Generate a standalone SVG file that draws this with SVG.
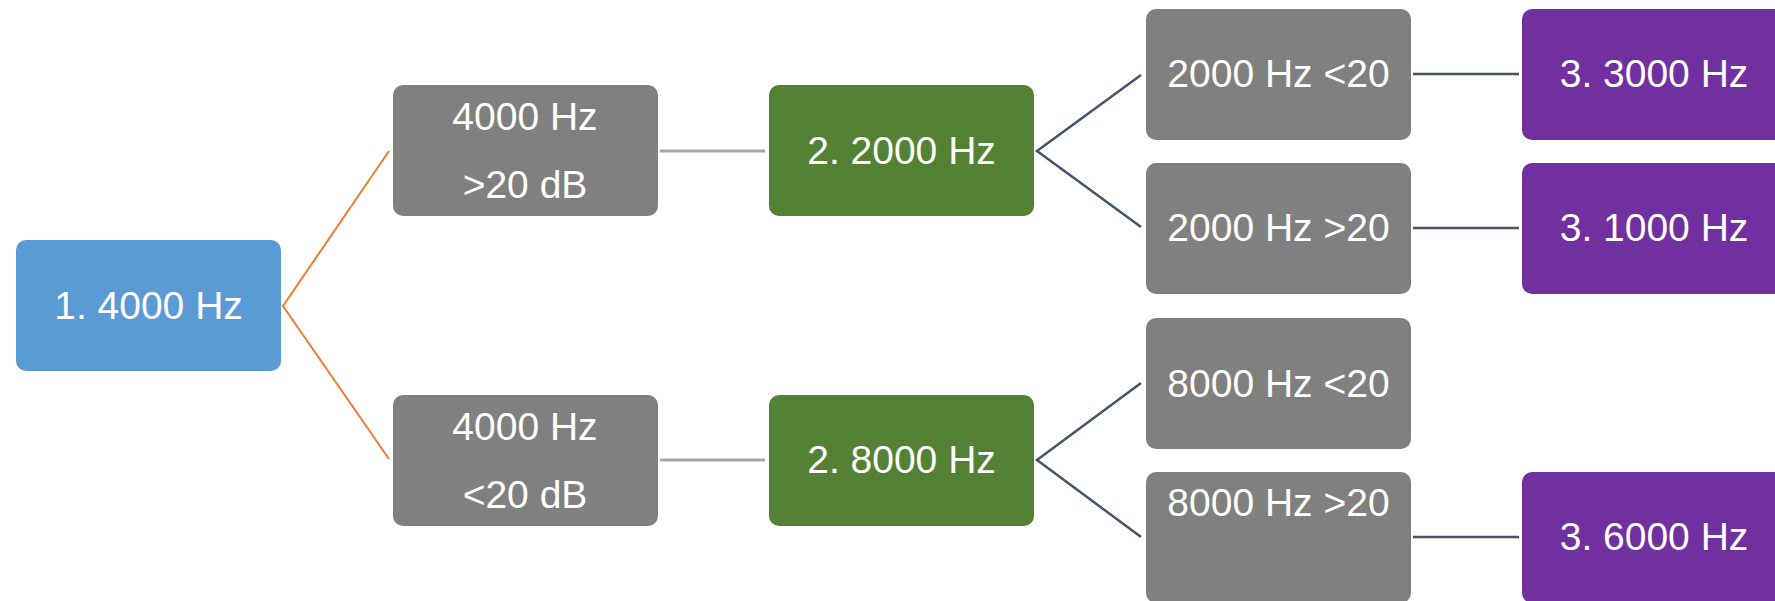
<svg xmlns="http://www.w3.org/2000/svg" width="1775" height="601" viewBox="0 0 1775 601">
<style>
.n{stroke:none}
.blue{fill:#5B9BD5}
.gray{fill:#808080}
.green{fill:#548235}
.purple{fill:#7030A0}
.t{font-family:"Liberation Sans",Arial,sans-serif;font-size:39px;fill:#FFFFFF;text-anchor:middle}
.or{stroke:#ED7D31;stroke-width:2;fill:none}
.lg{stroke:#A5A5A5;stroke-width:3;fill:none}
.dk{stroke:#44546A;stroke-width:2.5;fill:none}
</style>
<rect width="1775" height="601" fill="#FFFFFF"/>
<g id="connectors">
<polyline class="or" points="389,151 283,306 389,459"/>
<line class="lg" x1="660" y1="151" x2="765" y2="151"/>
<line class="lg" x1="660" y1="460" x2="765" y2="460"/>
<polyline class="dk" points="1141,75 1037,151 1141,227"/>
<polyline class="dk" points="1141,383 1037,460 1141,537"/>
<line class="dk" x1="1413" y1="74" x2="1519" y2="74"/>
<line class="dk" x1="1413" y1="228" x2="1519" y2="228"/>
<line class="dk" x1="1413" y1="537" x2="1519" y2="537"/>
</g>
<g id="n1"><rect class="n blue" x="16" y="240" width="265" height="131" rx="10"/><text class="t" x="148.5" y="319">1. 4000 Hz</text></g>
<g id="n2"><rect class="n gray" x="393" y="85" width="265" height="131" rx="10"/><text class="t" x="525" y="130">4000 Hz</text><text class="t" x="525" y="198">&gt;20 dB</text></g>
<g id="n3"><rect class="n gray" x="393" y="395" width="265" height="131" rx="10"/><text class="t" x="525" y="440">4000 Hz</text><text class="t" x="525" y="508">&lt;20 dB</text></g>
<g id="n4"><rect class="n green" x="769" y="85" width="265" height="131" rx="10"/><text class="t" x="901.5" y="164">2. 2000 Hz</text></g>
<g id="n5"><rect class="n green" x="769" y="395" width="265" height="131" rx="10"/><text class="t" x="901.5" y="473">2. 8000 Hz</text></g>
<g id="n6"><rect class="n gray" x="1146" y="9" width="265" height="131" rx="10"/><text class="t" x="1278.5" y="87">2000 Hz &lt;20</text></g>
<g id="n7"><rect class="n gray" x="1146" y="163" width="265" height="131" rx="10"/><text class="t" x="1278.5" y="241">2000 Hz &gt;20</text></g>
<g id="n8"><rect class="n gray" x="1146" y="318" width="265" height="131" rx="10"/><text class="t" x="1278.5" y="397">8000 Hz &lt;20</text></g>
<g id="n9"><rect class="n gray" x="1146" y="472" width="265" height="131" rx="10"/><text class="t" x="1278.5" y="516">8000 Hz &gt;20</text></g>
<g id="n10"><rect class="n purple" x="1522" y="9" width="265" height="131" rx="10"/><text class="t" x="1654" y="87">3. 3000 Hz</text></g>
<g id="n11"><rect class="n purple" x="1522" y="163" width="265" height="131" rx="10"/><text class="t" x="1654" y="241">3. 1000 Hz</text></g>
<g id="n12"><rect class="n purple" x="1522" y="472" width="265" height="131" rx="10"/><text class="t" x="1654" y="550">3. 6000 Hz</text></g>
</svg>
